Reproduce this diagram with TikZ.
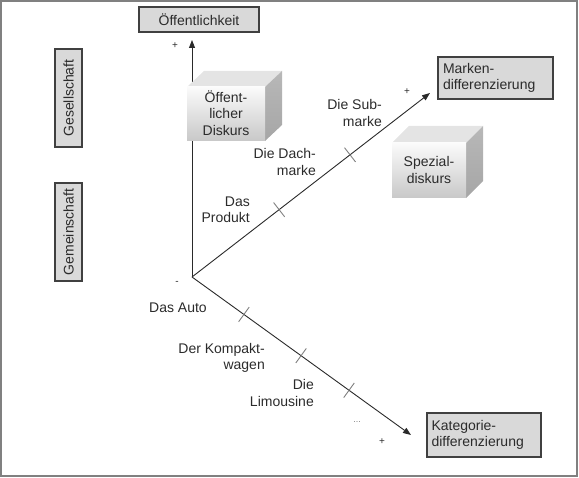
\documentclass[tikz,border=0pt]{standalone}
\usepackage{fontspec}
\setmainfont{Liberation Sans}
\usetikzlibrary{arrows.meta,calc}
\definecolor{txt}{HTML}{2B2B2B}
\definecolor{boxfill}{HTML}{D9D9D9}
\definecolor{boxline}{HTML}{404040}
\definecolor{axisc}{HTML}{2A2A2A}
\definecolor{tickc}{HTML}{7F7F7F}
\definecolor{cubetop}{HTML}{E4E4E4}
\definecolor{cubeside}{HTML}{A6A6A6}
\definecolor{cubefront}{HTML}{C8C8C8}
\tikzset{
  lbl/.style={text=txt, font=\fontsize{14}{16.5}\selectfont, inner sep=0pt},
  rlbl/.style={lbl, align=right},
  gbox/.style={draw=boxline, line width=1.2pt, fill=boxfill, text=txt, font=\fontsize{14}{16.5}\selectfont, inner sep=0pt},
  axisline/.style={draw=axisc, line width=0.9pt, -{Triangle[length=8pt,width=6pt]}},
  tickline/.style={draw=tickc, line width=0.9pt},
  pm/.style={lbl, font=\fontsize{10}{12}\selectfont},
}
\begin{document}
\begin{tikzpicture}[x=1pt,y=-1pt]
\useasboundingbox (0,0) rectangle (579,478);
\draw[draw=gray, line width=2pt] (1,1) rectangle (577,476);

% boxes
\node[gbox, minimum width=120pt, minimum height=25pt] (oef) at (199,19.5) {Öffentlichkeit};
\node[gbox, minimum width=98pt, minimum height=27pt, rotate=90] (ges) at (68.5,98) {Gesellschaft};
\node[gbox, minimum width=98pt, minimum height=27pt, rotate=90] (gem) at (68.5,232) {Gemeinschaft};
\node[gbox, minimum width=115pt, minimum height=42pt, align=left, text width=105pt] (mdiff) at (495.5,78) {Marken-\\differenzierung};
\node[gbox, minimum width=114pt, minimum height=44pt, align=left, text width=105pt] (kdiff) at (484,435) {Kategorie-\\differenzierung};

% axes
\coordinate (O) at (192,277);
\coordinate (T) at (192,40);
\coordinate (U) at (430,93);
\coordinate (D) at (411,435);
\draw[axisline] (O) -- (T);
\draw[axisline] (O) -- (U);
\draw[axisline] (O) -- (D);

% ticks
\path (O) -- (U) coordinate[pos=0.366] (u1) coordinate[pos=0.664] (u2);
\path (O) -- (D) coordinate[pos=0.237] (d1) coordinate[pos=0.498] (d2) coordinate[pos=0.717] (d3);
\foreach \p/\q in {u1/U,u2/U,d1/D,d2/D,d3/D}{
  \draw[tickline] ($(\p)!9pt!90:(\q)$) -- ($(\p)!9pt!-90:(\q)$);
}

% cube 1
\fill[cubetop] (187,87) -- (204,71) -- (282,71) -- (265,87) -- cycle;
\shade[top color=cubeside!80!white, bottom color=cubeside] (265,87) -- (282,71) -- (282,125) -- (265,141) -- cycle;
\shade[top color=white!92!cubefront, bottom color=cubefront] (187,87) rectangle (265,141);
\node[lbl, align=center] (cube1) at (226,113) {Öffent-\\licher\\Diskurs};

% cube 2
\fill[cubetop] (392,143) -- (409,126) -- (483,126) -- (466,143) -- cycle;
\shade[top color=cubeside!80!white, bottom color=cubeside] (466,143) -- (483,126) -- (483,181) -- (466,198) -- cycle;
\shade[top color=white!92!cubefront, bottom color=cubefront] (392,143) rectangle (466,198);
\node[lbl, align=center] (cube2) at (429,170) {Spezial-\\diskurs};

% labels
\node[rlbl, anchor=east] (sub) at (382,113) {Die Sub-\\marke};
\node[rlbl, anchor=east] (dach) at (316,162) {Die Dach-\\marke};
\node[rlbl, anchor=east] (prod) at (250,210) {Das\\Produkt};
\node[lbl] (auto) at (178,308) {Das Auto};
\node[rlbl, anchor=east] (komp) at (265,358) {Der Kompakt-\\wagen};
\node[rlbl, anchor=east] (limo) at (314,393) {Die\\Limousine};
\node[lbl, text=tickc, font=\fontsize{9}{10}\selectfont] (dots) at (357,422) {...};

\node[pm] (p1) at (175,46) {+};
\node[pm] (p2) at (407,92) {+};
\node[pm] (p3) at (382,442) {+};
\node[pm] (m1) at (177,283) {-};
\end{tikzpicture}
\end{document}
